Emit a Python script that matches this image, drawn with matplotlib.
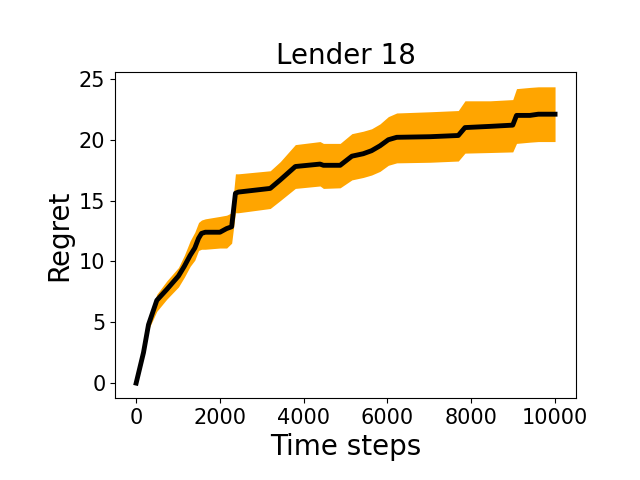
import matplotlib
matplotlib.use('Agg')
import matplotlib.pyplot as plt

# values
steps = [0, 175, 295, 493, 732, 1010, 1150, 1290, 1400, 1490, 1560, 1650, 2000, 2160,
         2280, 2370, 2440, 3200, 3440, 3800, 4390, 4470, 4870, 5150, 5420, 5620, 5820,
         6020, 6220, 7020, 7690, 7850, 8450, 8990, 9080, 9400, 9600, 10000]
regret_mean = [0, 2.5, 4.8, 6.8, 7.7, 8.8, 9.6, 10.5, 11.1, 11.9, 12.3, 12.4, 12.4, 12.7,
               12.85, 15.6, 15.7, 16.0, 16.7, 17.8, 18.0, 17.9, 17.9, 18.65, 18.85, 19.1,
               19.5, 20.0, 20.2, 20.25, 20.35, 21.0, 21.1, 21.2, 22.0, 22.0, 22.1, 22.1]
regret_upper = [0, 2.7, 5.4, 7.3, 8.4, 9.5, 10.5, 11.7, 12.4, 13.2, 13.4, 13.5, 13.7, 13.8,
                14.0, 17.2, 17.2, 17.45, 18.2, 19.6, 19.85, 19.7, 19.7, 20.5, 20.7, 20.9,
                21.3, 21.9, 22.2, 22.3, 22.4, 23.2, 23.2, 23.3, 24.2, 24.3, 24.35, 24.35]
regret_lower = [0, 2.3, 4.4, 5.9, 6.9, 7.9, 8.7, 9.6, 10.1, 10.9, 11.0, 11.0, 11.1, 11.1,
                11.5, 14.0, 14.0, 14.35, 15.0, 16.0, 16.2, 16.0, 16.05, 16.7, 16.9, 17.1,
                17.4, 17.9, 18.1, 18.15, 18.25, 18.9, 18.95, 19.0, 19.7, 19.8, 19.85, 19.85]

fig, ax = plt.subplots(figsize=(6.4, 4.8), dpi=100)
fig.subplots_adjust(left=0.18, right=0.9, bottom=0.171, top=0.85)

ax.fill_between(steps, regret_lower, regret_upper, color='orange', linewidth=0)
ax.plot(steps, regret_mean, color='black', linewidth=3.5)

ax.set_title('Lender 18', fontsize=20)
ax.set_xlabel('Time steps', fontsize=20)
ax.set_ylabel('Regret', fontsize=20)
ax.tick_params(labelsize=15)

fig.savefig('out.png')
